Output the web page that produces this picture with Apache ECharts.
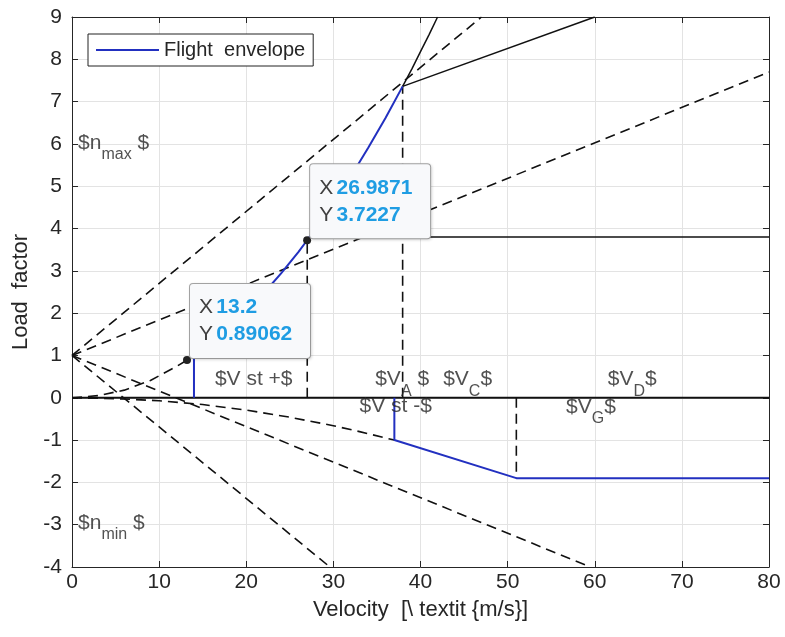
<!DOCTYPE html>
<html>
<head>
<meta charset="utf-8">
<script src="https://cdn.jsdelivr.net/npm/echarts@6/dist/echarts.min.js"></script>
<style>html,body{margin:0;padding:0;background:#fff;}#c{width:785px;height:637px;}</style>
</head>
<body>
<div id="c"></div>
<script>
// ---- data ----
const xTicks = [0, 10, 20, 30, 40, 50, 60, 70, 80];
const yTicks = [-4, -3, -2, -1, 0, 1, 2, 3, 4, 5, 6, 7, 8, 9];

// positive stall curve (dashed part below stall speed)
const stallPosDashV = [0, 3, 6, 9, 12, 13.2, 14];
const stallPosDashN = [0, 0.05, 0.18, 0.41, 0.74, 0.89, 1.0];
// flight envelope, positive side
const envPosV = [14, 14, 16, 18, 20, 22, 24, 26, 26.9871, 28, 30, 32, 34, 36, 37.95];
const envPosN = [0, 1.0, 1.31, 1.66, 2.04, 2.47, 2.94, 3.45, 3.7227, 4.01, 4.60, 5.23, 5.91, 6.62, 7.36];
// flight envelope, negative side
const envNegV = [37, 37, 51, 80];
const envNegN = [0, -1.0, -1.9, -1.9];
// stall curve continuing past the corner (solid)
const stallPosSolidV = [37.95, 39, 40, 41, 41.96];
const stallPosSolidN = [7.36, 7.77, 8.18, 8.59, 9.0];
// solid line from corner
const cornerLineV = [37.95, 60];
const cornerLineN = [7.36, 9.0];
// horizontal solid line
const hLineV = [38, 80];
const hLineN = [3.8, 3.8];
// zero line
const zeroV = [0, 80];
const zeroN = [0, 0];
// negative stall curve (dashed)
const stallNegV = [0, 5, 10, 15, 20, 25, 30, 33, 37];
const stallNegN = [0, -0.02, -0.07, -0.16, -0.29, -0.46, -0.66, -0.80, -1.0];
// gust lines from (0,1)
const gust1V = [0, 47], gust1N = [1, 9];
const gust2V = [0, 80], gust2N = [1, 7.7];
const gust3V = [0, 29.6], gust3N = [1, -4];
const gust4V = [0, 59.5], gust4N = [1, -4];
// vertical dashed lines
const vDash1V = [27, 27], vDash1N = [0, 3.72];
const vDash2V = [37.95, 37.95], vDash2N = [0, 7.36];
const vDash3V = [51, 51], vDash3N = [0, -1.9];
// data tips
const tipX = [13.2, 26.9871];
const tipY = [0.89062, 3.7227];
// annotations
const annoText = ['{m|$n}{s|max}{m| $}', '{m|$n}{s|min}{m| $}', '{m|$V st +$}', '{m|$V}{s|A}{m| $}', '{m|$V}{s|C}{m|$}', '{m|$V}{s|D}{m|$}', '{m|$V st -$}', '{m|$V}{s|G}{m|$}'];
const annoX = [0.7, 0.7, 16.4, 34.8, 42.6, 61.5, 33.0, 56.7];
const annoY = [6.02, -2.96, 0.43, 0.43, 0.43, 0.43, -0.2, -0.22];

const zip = (a, b) => a.map((v, i) => [v, b[i]]);
const TXT = '#262626';
const FONT = 'Liberation Sans';
const BLUE = '#2230c0';

function dashed(data) {
  return { type: 'line', data: data, symbol: 'none', silent: true, z: 3,
    lineStyle: { color: '#111', width: 1.6, type: [10, 6] } };
}
function solid(data, w) {
  return { type: 'line', data: data, symbol: 'none', silent: true, z: 3,
    lineStyle: { color: '#111', width: w || 1.5, type: 'solid' } };
}

const chart = echarts.init(document.getElementById('c'), null, { renderer: 'canvas' });
const axisCommon = {
  axisLine: { show: true, onZero: false, lineStyle: { color: TXT, width: 1 } },
  axisTick: { show: true, inside: true, length: 6, lineStyle: { color: TXT } },
};
chart.setOption({
  animation: false,
  backgroundColor: '#fff',
  textStyle: { fontFamily: FONT },
  grid: { left: 72, right: 16, top: 17, bottom: 70, show: false },
  legend: {
    data: [{ name: 'Flight  envelope', icon: 'rect' }],
    left: 88, top: 34, padding: [6, 8, 6, 8],
    itemWidth: 63, itemHeight: 2, itemGap: 5,
    backgroundColor: '#fff', borderColor: '#222', borderWidth: 1, borderRadius: 0,
    textStyle: { fontSize: 20, color: TXT, fontFamily: FONT, lineHeight: 18 }
  },
  xAxis: [
    Object.assign({ type: 'value', min: 0, max: 80, interval: 10, position: 'bottom',
      name: 'Velocity  [\\ textit {m/s}]', nameLocation: 'middle', nameGap: 32,
      nameTextStyle: { fontSize: 22, color: TXT, fontFamily: FONT },
      axisLabel: { fontSize: 21, color: TXT, margin: 5, fontFamily: FONT },
      splitLine: { show: true, lineStyle: { color: '#e3e3e3', width: 1 } } }, axisCommon),
    Object.assign({ type: 'value', min: 0, max: 80, interval: 10, position: 'top',
      axisLabel: { show: false }, splitLine: { show: false } }, axisCommon)
  ],
  yAxis: [
    Object.assign({ type: 'value', min: -4, max: 9, interval: 1, position: 'left',
      name: 'Load  factor', nameLocation: 'middle', nameGap: 39, nameRotate: 90,
      nameTextStyle: { fontSize: 22, color: TXT, fontFamily: FONT },
      axisLabel: { fontSize: 21, color: TXT, margin: 10, fontFamily: FONT },
      splitLine: { show: true, lineStyle: { color: '#e3e3e3', width: 1 } } }, axisCommon),
    Object.assign({ type: 'value', min: -4, max: 9, interval: 1, position: 'right',
      axisLabel: { show: false }, splitLine: { show: false } }, axisCommon)
  ],
  series: [
    solid(zip(zeroV, zeroN), 2),
    dashed(zip(stallPosDashV, stallPosDashN)),
    dashed(zip(stallNegV, stallNegN)),
    dashed(zip(gust1V, gust1N)),
    dashed(zip(gust2V, gust2N)),
    dashed(zip(gust3V, gust3N)),
    dashed(zip(gust4V, gust4N)),
    dashed(zip(vDash1V, vDash1N)),
    dashed(zip(vDash2V, vDash2N)),
    dashed(zip(vDash3V, vDash3N)),
    solid(zip(stallPosSolidV, stallPosSolidN)),
    solid(zip(cornerLineV, cornerLineN)),
    solid(zip(hLineV, hLineN)),
    { type: 'line', name: 'Flight  envelope', data: zip(envPosV, envPosN), symbol: 'none', z: 5,
      lineStyle: { color: BLUE, width: 2 }, itemStyle: { color: BLUE } },
    { type: 'line', name: 'Flight  envelope', data: zip(envNegV, envNegN), symbol: 'none', z: 5,
      lineStyle: { color: BLUE, width: 2 }, itemStyle: { color: BLUE } },
    { type: 'scatter', data: zip(annoX, annoY),
      symbolSize: 0, z: 6, silent: true,
      label: { show: true, position: [0, 0], align: 'left', verticalAlign: 'middle',
        formatter: p => annoText[p.dataIndex],
        rich: {
          m: { fontSize: 21, color: TXT, fontFamily: FONT, lineHeight: 40, verticalAlign: 'middle' },
          s: { fontSize: 16, color: TXT, fontFamily: FONT, lineHeight: 17, verticalAlign: 'bottom' }
        } } },
    { type: 'scatter', data: zip(tipX, tipY), symbolSize: 8, z: 10, silent: true,
      itemStyle: { color: '#222', opacity: 1 },
      label: { show: true, position: [7, 2], align: 'left', verticalAlign: 'bottom',
        backgroundColor: '#f8f9fb', borderColor: '#a5a5a5', borderWidth: 1, borderRadius: 3,
        padding: [10, 8, 10, 9], width: 103, height: 54,
        shadowColor: 'rgba(0,0,0,0.12)', shadowBlur: 3, shadowOffsetX: 1, shadowOffsetY: 1,
        formatter: p => '{k|X} {v|' + p.value[0] + '}\n{k|Y} {v|' + p.value[1] + '}',
        rich: {
          k: { fontSize: 21, color: '#404040', fontFamily: FONT, lineHeight: 27 },
          v: { fontSize: 21, color: '#1f9de3', fontWeight: 'bold', fontFamily: FONT, lineHeight: 27 }
        } } }
  ]
});
</script>
</body>
</html>
